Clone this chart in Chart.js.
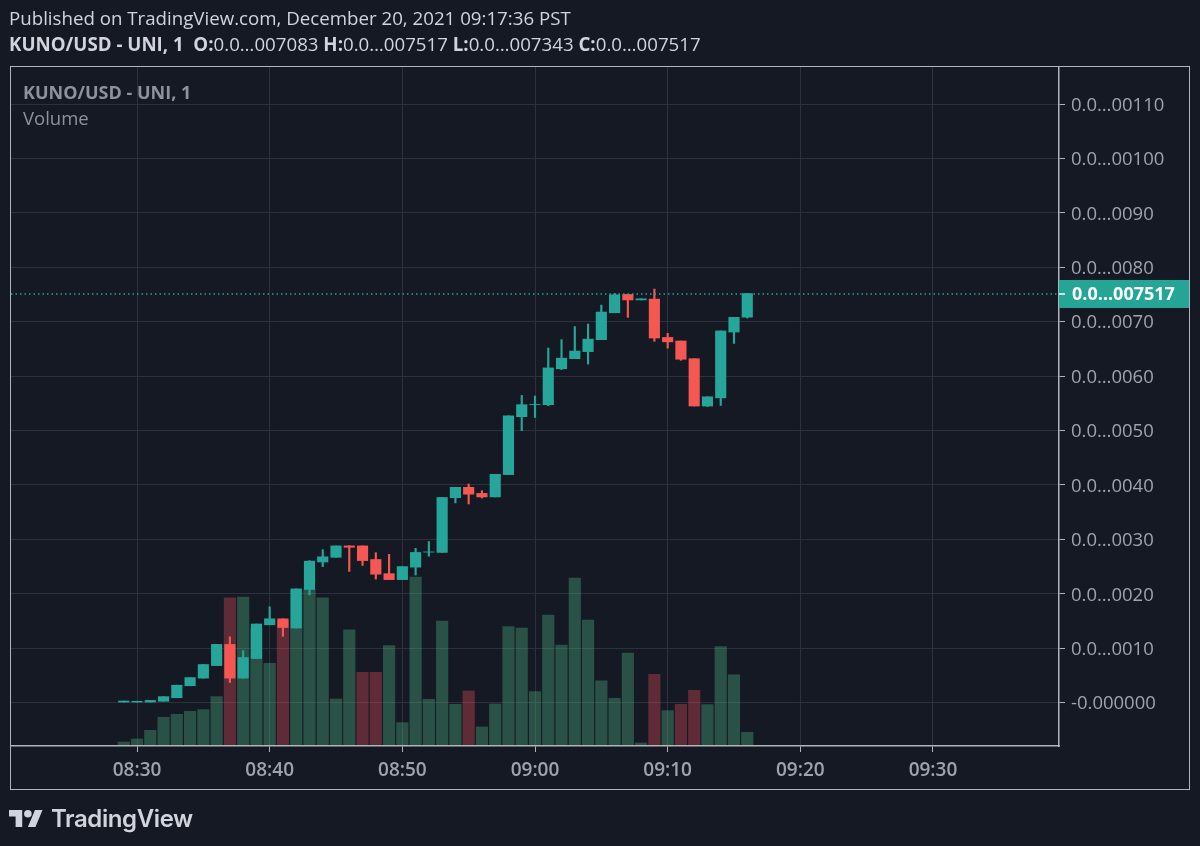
<!DOCTYPE html>
<html>
<head>
<meta charset="utf-8">
<script src="https://cdn.jsdelivr.net/npm/chart.js@4"></script>
<style>
    html, body { margin: 0; padding: 0; width: 1200px; height: 846px; background: #151924; overflow: hidden; }
    body { position: relative; font-family: "Open Sans", sans-serif; color: #d1d4dc; }
    canvas { position: absolute; left: 0; top: 0; }
    .line { position: absolute; left: 9px; font-size: 18.7px; white-space: nowrap; line-height: 24px; }
    .line b { font-weight: 700; }
    .frame { position: absolute; left: 10px; top: 66px; width: 1178px; height: 722px; border: 1.5px solid #b0b3ba; box-sizing: content-box; pointer-events: none; }
    .legend { position: absolute; left: 23px; font-size: 18.5px; color: #8f929b; line-height: 24px; }
    .logo { position: absolute; left: 9px; top: 804px; display: flex; align-items: center; color: #d1d4dc; }
    .logo span { font-family: Inter, sans-serif; font-weight: 600; font-size: 24px; margin-left: 8px; letter-spacing: -0.4px; }
</style>
</head>
<body>
<canvas id="chart" width="1200" height="846"></canvas>
<div class="line" style="top:6px">Published on TradingView.com, December 20, 2021 09:17:36 PST</div>
<div class="line" style="top:32px"><b>KUNO/USD - UNI, 1&nbsp; O:</b>0.0…007083 <b>H:</b>0.0…007517 <b>L:</b>0.0…007343 <b>C:</b>0.0…007517</div>
<div class="frame"></div>
<div class="legend" style="top:80px;font-weight:700;font-size:18px">KUNO/USD - UNI, 1</div>
<div class="legend" style="top:106px">Volume</div>
<div class="logo">
    <svg width="34" height="19" viewBox="0 3 36 20"><path fill="#d1d4dc" d="M14 22H7V11H0V4h14v18zM28 22h-8l7.5-18h8L28 22z"/><circle fill="#d1d4dc" cx="20" cy="8" r="4"/></svg>
    <span>TradingView</span>
</div>
<script>
// prices are in thousandths, the axis labels carry the shortened form
const axisTimes = [
    '08:21','08:22','08:23','08:24','08:25','08:26','08:27','08:28','08:29','08:30',
    '08:31','08:32','08:33','08:34','08:35','08:36','08:37','08:38','08:39','08:40',
    '08:41','08:42','08:43','08:44','08:45','08:46','08:47','08:48','08:49','08:50',
    '08:51','08:52','08:53','08:54','08:55','08:56','08:57','08:58','08:59','09:00',
    '09:01','09:02','09:03','09:04','09:05','09:06','09:07','09:08','09:09','09:10',
    '09:11','09:12','09:13','09:14','09:15','09:16','09:17','09:18','09:19','09:20',
    '09:21','09:22','09:23','09:24','09:25','09:26','09:27','09:28','09:29','09:30',
    '09:31','09:32','09:33','09:34','09:35','09:36','09:37','09:38','09:39'
];
const candleTimes = axisTimes.slice(8, 56);

const opens = [0.00,0.00,0.01,0.025,0.09,0.31,0.45,0.68,1.07,0.45,0.81,1.43,1.54,1.37,2.08,2.585,
    2.67,2.88,2.88,2.63,2.37,2.26,2.49,2.765,2.76,3.766,3.956,3.845,3.78,4.19,5.255,5.475,
    5.475,6.135,6.32,6.45,6.67,7.165,7.50,7.40,7.415,6.71,6.645,6.32,5.45,5.60,6.81,7.083];
const highs = [0.03,0.025,0.04,0.11,0.32,0.46,0.70,1.07,1.21,0.955,1.445,1.76,1.54,2.09,2.61,2.81,
    2.88,2.885,2.88,2.755,2.725,2.50,2.835,2.96,3.77,3.956,4.017,3.895,4.195,5.27,5.645,5.634,
    6.515,6.67,6.91,6.956,7.305,7.52,7.50,7.42,7.60,6.785,6.645,6.32,5.62,6.83,7.08,7.517];
const lows = [0.00,0.00,0.01,0.025,0.09,0.31,0.45,0.68,0.37,0.45,0.81,1.43,1.22,1.37,1.98,2.50,
    2.67,2.41,2.52,2.27,2.26,2.26,2.345,2.69,2.76,3.67,3.65,3.76,3.78,4.19,4.997,5.24,
    5.456,6.12,6.32,6.22,6.67,7.165,7.08,7.40,6.64,6.515,6.29,5.45,5.44,5.46,6.60,7.067];
const closes = [0.03,0.025,0.04,0.11,0.32,0.46,0.70,1.07,0.45,0.83,1.445,1.54,1.38,2.09,2.60,2.68,
    2.88,2.855,2.61,2.36,2.26,2.50,2.76,2.77,3.77,3.956,3.83,3.78,4.195,5.27,5.475,5.48,
    6.15,6.33,6.46,6.68,7.177,7.495,7.40,7.42,6.70,6.63,6.31,5.45,5.62,6.83,7.08,7.517];
const volumes = [8,17,43,82,91,100,105,144,440,442,348,244,372,462,465,440,
    137,344,217,217,297,66,502,136,370,121,161,53,122,354,349,159,
    388,298,499,373,191,139,274,5,211,102,121,163,120,294,209,37];
const redVolumeTimes = ['08:37','08:41','08:47','08:48','08:55','09:09','09:11','09:12'];

const priceTicks = ['-0.000000','0.0…0010','0.0…0020','0.0…0030','0.0…0040','0.0…0050','0.0…0060',
    '0.0…0070','0.0…0080','0.0…0090','0.0…00100','0.0…00110'];
const lastPrice = 7.517;
const lastPriceLabel = '0.0…007517';

const UP = '#26a69a';
const DOWN = '#f55753';
const GRID = '#2e313d';
const AXIS = '#b0b3ba';
const LABEL = '#a0a3ab';
const FONT = '"Open Sans", sans-serif';

const candleColors = closes.map((c, i) => c >= opens[i] ? UP : DOWN);

const lastPricePlugin = {
    id: 'lastPrice',
    afterDatasetsDraw(chart) {
        const ctx = chart.ctx;
        const y = Math.round(chart.scales.y.getPixelForValue(lastPrice));
        const area = chart.chartArea;
        ctx.save();
        ctx.strokeStyle = UP;
        ctx.lineWidth = 1.5;
        ctx.setLineDash([1.5, 3]);
        ctx.beginPath();
        ctx.moveTo(area.left, y);
        ctx.lineTo(area.right, y);
        ctx.stroke();
        ctx.setLineDash([]);
        ctx.fillStyle = '#24a595';
        ctx.fillRect(area.right, y - 14, 130, 28);
        ctx.strokeStyle = '#ffffff';
        ctx.beginPath();
        ctx.moveTo(area.right, y);
        ctx.lineTo(area.right + 6, y);
        ctx.stroke();
        ctx.fillStyle = '#ffffff';
        ctx.font = '700 18px ' + FONT;
        ctx.textBaseline = 'middle';
        ctx.fillText(lastPriceLabel, area.right + 13, y + 1);
        ctx.restore();
    }
};

new Chart(document.getElementById('chart'), {
    type: 'bar',
    data: {
        labels: axisTimes,
        datasets: [{
            label: 'Candles',
            order: 1,
            yAxisID: 'y',
            grouped: false,
            barThickness: 10.5,
            data: candleTimes.map((t, i) => ({x: t, y: [opens[i], closes[i]]})),
            backgroundColor: candleColors
        }, {
            label: 'Wicks',
            order: 2,
            yAxisID: 'y',
            grouped: false,
            barThickness: 1.5,
            data: candleTimes.map((t, i) => ({x: t, y: [lows[i], highs[i]]})),
            backgroundColor: candleColors
        }, {
            label: 'Volume',
            order: 3,
            yAxisID: 'vol',
            grouped: false,
            barThickness: 11.5,
            data: candleTimes.map((t, i) => ({x: t, y: volumes[i]})),
            backgroundColor: candleTimes.map(t => redVolumeTimes.includes(t) ? 'rgba(235,77,92,.35)' : 'rgba(83,185,135,.35)')
        }]
    },
    options: {
        responsive: false,
        animation: false,
        layout: {padding: {left: 11, top: 67, right: 11, bottom: 56}},
        plugins: {legend: {display: false}, title: {display: false}, tooltip: {enabled: false}},
        scales: {
            x: {
                type: 'category',
                offset: true,
                grid: {offset: false, color: GRID, tickColor: AXIS, tickLength: 6},
                border: {color: AXIS, width: 1.5},
                afterBuildTicks: scale => {
                    scale.ticks = scale.ticks.filter(t => axisTimes[t.value].endsWith('0'));
                },
                afterFit: scale => { scale.height = 44; },
                ticks: {
                    autoSkip: false,
                    maxRotation: 0,
                    padding: 7,
                    color: LABEL,
                    font: {family: FONT, size: 19, weight: '600'},
                    callback: value => axisTimes[value]
                }
            },
            y: {
                position: 'right',
                min: -0.797,
                max: 11.68,
                grid: {color: GRID, tickColor: AXIS, tickLength: 6},
                border: {color: AXIS, width: 1.5},
                afterFit: scale => { scale.width = 130; },
                ticks: {
                    stepSize: 1,
                    includeBounds: false,
                    padding: 6,
                    labelOffset: 1.5,
                    color: LABEL,
                    font: {family: FONT, size: 18.5},
                    callback: value => priceTicks[Math.round(value)]
                }
            },
            vol: {
                display: false,
                min: -4,
                max: 2030
            }
        }
    },
    plugins: [lastPricePlugin]
});
</script>
</body>
</html>
